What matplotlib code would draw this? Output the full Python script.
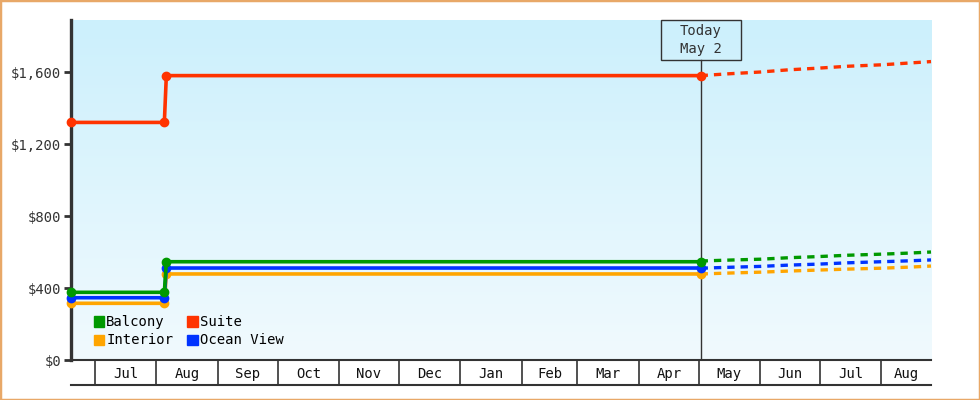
import matplotlib
matplotlib.use("Agg")
import matplotlib.pyplot as plt
import matplotlib.dates as mdates
import matplotlib.transforms as mtransforms
from matplotlib.patches import Patch, Rectangle
import numpy as np
import pandas as pd

# price history (step changes) and forecast
hist_dates = pd.to_datetime(["2024-06-19", "2024-08-05", "2024-08-06", "2025-05-02"])
suite = [1320, 1320, 1580, 1580]
balcony = [376, 376, 546, 546]
ocean_view = [346, 346, 511, 511]
interior = [315, 315, 478, 478]

fc_dates = pd.to_datetime(["2025-05-02", "2025-05-16", "2025-06-01", "2025-06-15", "2025-07-01",
                           "2025-07-15", "2025-08-01", "2025-08-15", "2025-08-26"])
suite_fc = [1580, 1590, 1600, 1612, 1622, 1632, 1640, 1650, 1658]
balcony_fc = [550, 555, 560, 568, 575, 582, 588, 594, 600]
ocean_view_fc = [510, 515, 520, 527, 533, 540, 546, 551, 556]
interior_fc = [478, 483, 488, 494, 500, 505, 510, 516, 522]

today = pd.Timestamp("2025-05-02")
x_start = pd.Timestamp("2024-06-19")
x_end = pd.Timestamp("2025-08-26")
y_ticks = [0, 400, 800, 1200, 1600]

colors = {"Balcony": "#009900", "Suite": "#ff3300", "Interior": "#ffa500", "Ocean View": "#0033ff"}
series = [("Suite", suite, suite_fc), ("Interior", interior, interior_fc),
          ("Ocean View", ocean_view, ocean_view_fc), ("Balcony", balcony, balcony_fc)]

font = "DejaVu Sans Mono"
plt.rcParams["font.family"] = font
ink = "#333333"
fs = 10

fig = plt.figure(figsize=(9.8, 4.0), dpi=100)
ax = fig.add_axes([71 / 980, 40 / 400, 860 / 980, 340 / 400])

# gradient background
grad = np.linspace(0, 1, 256).reshape(-1, 1)
top = np.array([204, 240, 252]) / 255
bot = np.array([241, 250, 254]) / 255
img = top[None, None, :] * (1 - grad[:, :, None]) + bot[None, None, :] * grad[:, :, None]
ax.imshow(img, extent=[0, 1, 0, 1], transform=ax.transAxes, aspect="auto", zorder=0)

for name, hist, fc in series:
    c = colors[name]
    ax.plot(fc_dates, fc, color=c, lw=2.4, ls=(0, (2.2, 1.8)), zorder=3, clip_on=False)
    ax.plot(hist_dates, hist, color=c, lw=2.6, marker="o", ms=6, zorder=4, clip_on=False)

ax.set_xlim(x_start, x_end)
ax.set_ylim(0, 1889)

# y axis
ax.set_yticks(y_ticks)
ax.set_yticklabels(["${:,}".format(v) for v in y_ticks], fontsize=fs, color=ink)
ax.tick_params(axis="y", length=5, width=2, color=ink, pad=2)
for s in ["top", "right"]:
    ax.spines[s].set_visible(False)
ax.spines["left"].set_linewidth(2.4)
ax.spines["left"].set_color(ink)
ax.spines["bottom"].set_linewidth(1.5)
ax.spines["bottom"].set_color(ink)

# x axis: month boundaries as long ticks, labels centred in each month
bounds = pd.date_range("2024-07-01", "2025-08-01", freq="MS")
ax.set_xticks(bounds)
ax.set_xticklabels([])
ax.tick_params(axis="x", length=18, width=1.2, color=ink)
edges = [x_start] + list(bounds) + [x_end]
trans = mtransforms.blended_transform_factory(ax.transData, ax.transAxes)
for a, b in zip(edges[:-1], edges[1:]):
    if (b - a).days < 20:
        continue
    mid = a + (b - a) / 2
    ax.text(mid, -0.04, a.strftime("%b"), transform=trans, ha="center", va="center",
            fontsize=fs, color="#111111")
ax.plot([0, 1], [-25 / 340, -25 / 340], transform=ax.transAxes, color=ink, lw=1.5, clip_on=False)

# today marker with label box (80 px wide, 40 px tall)
t_num = mdates.date2num(today)
half_w = 40 / 860 * (mdates.date2num(x_end) - mdates.date2num(x_start))
box_h = 40 / 340
ax.plot([today, today], [0, 1 - box_h], transform=trans, color=ink, lw=1, zorder=2)
ax.add_patch(Rectangle((t_num - half_w, 1 - box_h), 2 * half_w, box_h, transform=trans,
                       fill=False, ec=ink, lw=1, zorder=5, clip_on=False))
ax.text(today, 1 - box_h / 2, "Today\nMay 2", transform=trans, ha="center", va="center",
        fontsize=fs, color=ink, linespacing=1.35, zorder=5)

handles = [Patch(color=colors[n]) for n in ["Balcony", "Interior", "Suite", "Ocean View"]]
ax.legend(handles, ["Balcony", "Interior", "Suite", "Ocean View"], ncol=2, loc="lower left",
          bbox_to_anchor=(0.012, 0.0), frameon=False, fontsize=fs, handlelength=0.75,
          handleheight=0.75, handletextpad=0.15, columnspacing=1.0, labelspacing=0.3)

fig.patches.append(Rectangle((0, 0), 1, 1, transform=fig.transFigure, fill=False,
                             ec="#e8a868", lw=2.5))
fig.savefig("out.png", dpi=100)
